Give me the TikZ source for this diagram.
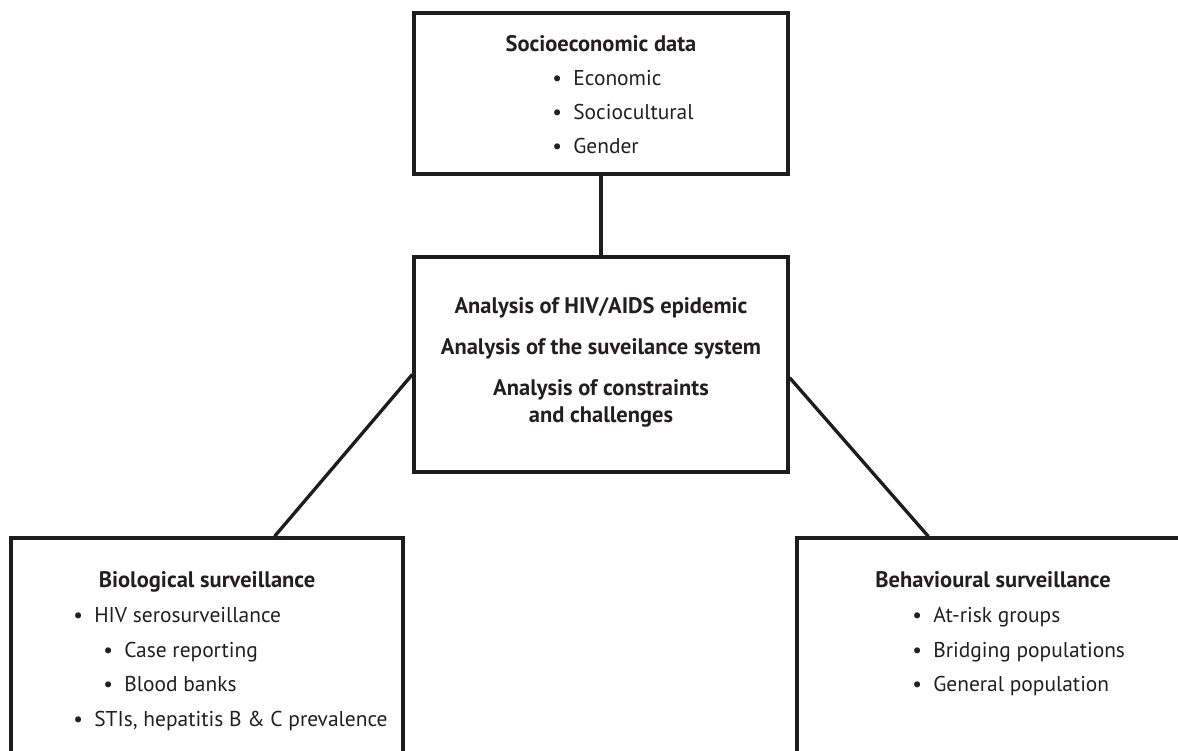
\documentclass[tikz,border=0pt]{standalone}
\usepackage{fontspec}
\setmainfont{PT Sans}
\usetikzlibrary{positioning}
\definecolor{InkLine}{RGB}{30,28,29}
\definecolor{InkText}{RGB}{35,31,32}
\newcommand{\bul}{\makebox[0.42cm][l]{•}}

\begin{document}
\begin{tikzpicture}[x=0.02cm, y=-0.02cm,
            box/.style={draw=InkLine, line width=1.9pt, minimum width=7.48cm, inner sep=0pt},
            wide/.style={box, minimum width=7.84cm, minimum height=5.24cm},
            head/.style={anchor=base, inner sep=0pt, text=InkText, font=\fontsize{12.8}{15}\selectfont\bfseries},
            item/.style={anchor=base west, inner sep=0pt, text=InkText, font=\fontsize{12.2}{15}\selectfont},
            link/.style={draw=InkLine, line width=1.9pt}
        ]
            \useasboundingbox (0,0) rectangle (1178,751);
            \node[box, minimum height=3.22cm] (socio)    at (601,93.5)  {};
            \node[box, minimum height=4.30cm] (analysis) at (601,364.5) {};
            \node[wide]                       (bio)      at (207,669)   {};
            \node[wide]                       (behav)    at (993,669)   {};
            \draw[link] (socio.south) -- (analysis.north);
            \draw[link] (analysis.183.2) -- (bio.63.3);
            \draw[link] (analysis.356.8) -- (behav.116.4);
            % socioeconomic data
            \node[head] (socioT) at (601,51) {Socioeconomic data};
            \node[item] (econ)   at (552,85)  {\bul Economic};
            \node[item] (cult)   at (552,119) {\bul Sociocultural};
            \node[item] (gend)   at (552,153) {\bul Gender};
            % analysis
            \node[head] (anaA) at (601,313) {Analysis of HIV/AIDS epidemic};
            \node[head] (anaB) at (601,354) {Analysis of the suveilance system};
            \node[head] (anaC) at (601,395) {Analysis of constraints};
            \node[head] (anaD) at (601,422) {and challenges};
            % biological surveillance
            \node[head] (bioT)  at (207,587) {Biological surveillance};
            \node[item] (sero)  at (73,622)  {\bul HIV serosurveillance};
            \node[item] (case)  at (103,657) {\bul Case reporting};
            \node[item] (blood) at (103,691) {\bul Blood banks};
            \node[item] (stis)  at (73,726)  {\bul STIs, hepatitis B \& C prevalence};
            % behavioural surveillance
            \node[head] (behT)  at (993,587) {Behavioural surveillance};
            \node[item] (risk)  at (912,622) {\bul At-risk groups};
            \node[item] (bridg) at (912,657) {\bul Bridging populations};
            \node[item] (genp)  at (912,691) {\bul General population};
        \end{tikzpicture}
\end{document}
